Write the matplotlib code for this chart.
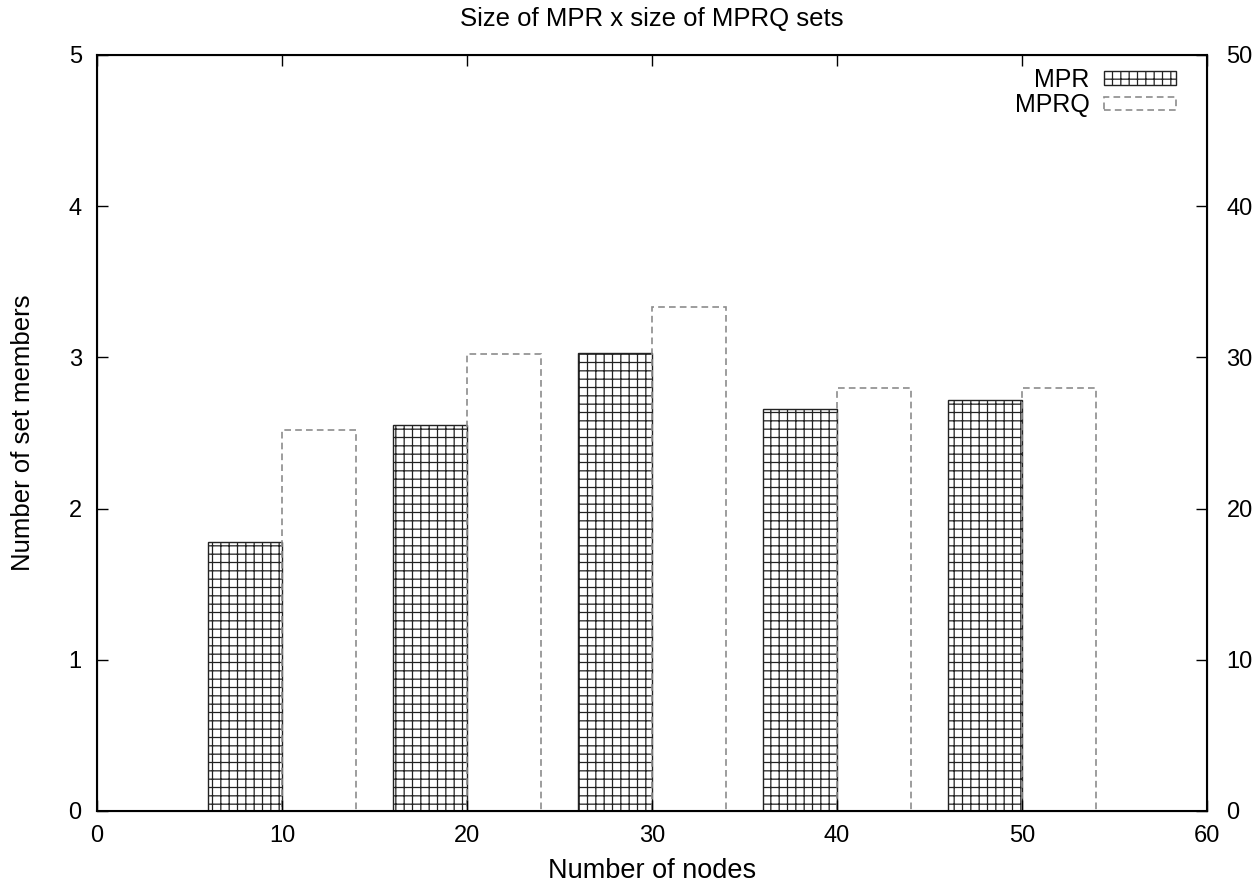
import matplotlib
matplotlib.use("Agg")
import matplotlib.pyplot as plt

# data
nodes = [10, 20, 30, 40, 50]
mpr = [1.78, 2.55, 3.03, 2.66, 2.72]
mprq = [2.52, 3.02, 3.33, 2.80, 2.80]
bar_w = 4

plt.rcParams["font.family"] = ["Liberation Sans", "DejaVu Sans"]
plt.rcParams["hatch.linewidth"] = 0.9
plt.rcParams["hatch.color"] = "#2a2a2a"

fig = plt.figure(figsize=(12.6, 8.86), dpi=100)
ax = fig.add_axes([0.077, 0.0847, 0.881, 0.8533])

ax.bar([n - bar_w / 2 for n in nodes], mpr, width=bar_w, facecolor="white",
       edgecolor="#222222", linewidth=1.0, hatch="++", label="MPR")
ax.bar([n + bar_w / 2 for n in nodes], mprq, width=bar_w, facecolor="none",
       edgecolor="#8c8c8c", linewidth=1.2, linestyle=(0, (4, 2.5)), label="MPRQ")

ax.set_xlim(0, 60)
ax.set_ylim(0, 5)
ax.set_xticks(range(0, 61, 10))
ax.set_yticks(range(0, 6))
ax.tick_params(direction="in", length=8, labelsize=17, top=True, width=1.0)
ax.tick_params(axis="x", pad=10)
ax.tick_params(axis="y", pad=11)
for s in ax.spines.values():
    s.set_linewidth(1.5)

ax2 = ax.twinx()
ax2.set_ylim(0, 50)
ax2.set_yticks(range(0, 51, 10))
ax2.tick_params(direction="in", length=8, labelsize=17, width=1.0, pad=14)

ax.set_xlabel("Number of nodes", fontsize=19.5, labelpad=8)
ax.set_ylabel("Number of set members", fontsize=18.5, labelpad=24)
ax.set_title("Size of MPR x size of MPRQ sets", fontsize=18.5, pad=21)

ax.legend(loc="upper right", frameon=False, markerfirst=False, fontsize=18,
          handlelength=2.9, handleheight=0.45, labelspacing=0.05,
          handletextpad=0.55, borderpad=0, borderaxespad=0,
          bbox_to_anchor=(1176 / 1260, 1 - 68 / 886),
          bbox_transform=fig.transFigure)

fig.savefig("out.png", dpi=100)
